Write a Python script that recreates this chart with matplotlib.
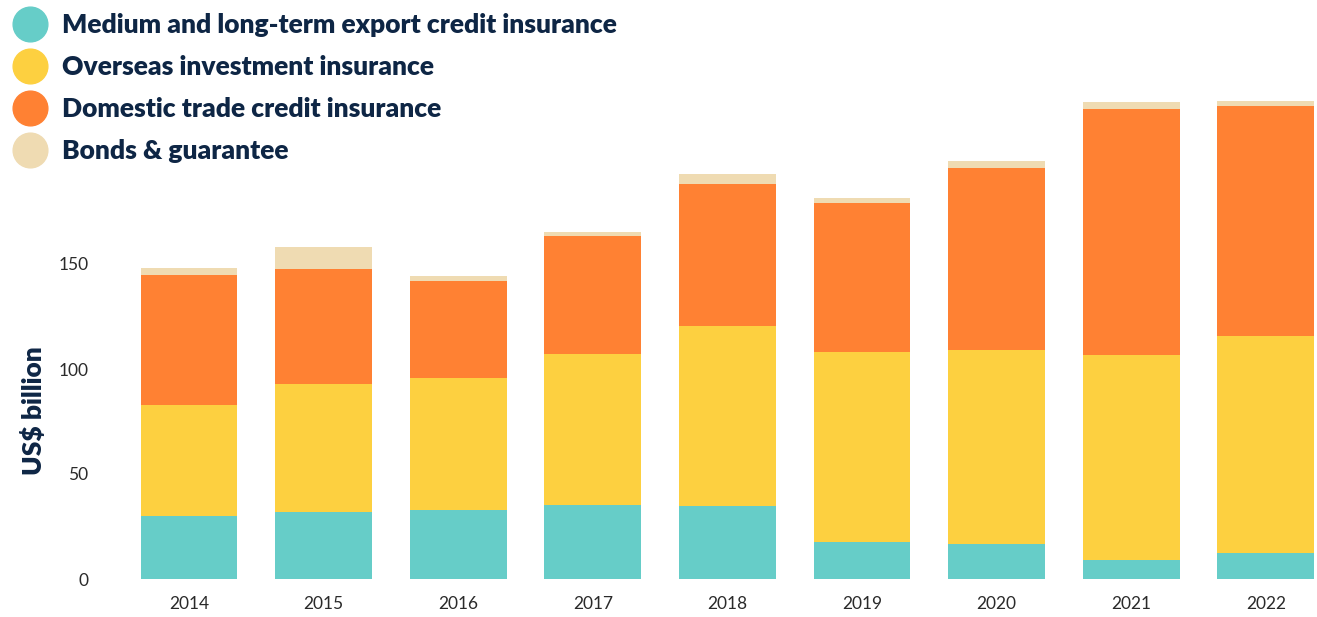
import numpy as np
import matplotlib.pyplot as plt
from matplotlib.lines import Line2D

years = ['2014', '2015', '2016', '2017', '2018', '2019', '2020', '2021', '2022']
medium_long = [30.0, 32.1, 33.0, 35.2, 34.9, 17.6, 16.8, 9.0, 12.2]
overseas = [52.9, 60.6, 62.9, 72.1, 85.7, 90.4, 92.4, 97.7, 103.7]
domestic = [61.9, 54.9, 46.1, 56.0, 67.5, 71.0, 86.7, 117.3, 109.2]
bonds = [3.4, 10.6, 2.4, 1.9, 4.6, 2.4, 3.1, 3.1, 2.5]

labels = ['Medium and long-term export credit insurance',
          'Overseas investment insurance',
          'Domestic trade credit insurance',
          'Bonds & guarantee']
colors = ['#66cdc8', '#fdd040', '#ff8133', '#efdbb2']
navy = '#0e2645'

plt.rcParams['font.family'] = ['Lato', 'DejaVu Sans']

W, H = 1317, 617
fig = plt.figure(figsize=(W / 100, H / 100), dpi=100)
ax = fig.add_axes([121.7 / W, (H - 579) / H, 1 - 121.7 / W, 579 / H])

x = np.arange(len(years))
bottom = np.zeros(len(years))
for vals, c, lab in zip([medium_long, overseas, domestic, bonds], colors, labels):
    ax.bar(x, vals, width=0.72, bottom=bottom, color=c, label=lab, linewidth=0)
    bottom += np.array(vals)

ax.set_xlim(-0.5, (W - 189) / 134.6)
ax.set_ylim(0, 579 / 2.1)
ax.set_xticks(x, years)
ax.set_yticks([0, 50, 100, 150])
ax.tick_params(length=0, labelsize=12.5, colors='#2a2a2a')
ax.tick_params(axis='x', pad=12)
ax.tick_params(axis='y', pad=24)
for s in ax.spines.values():
    s.set_visible(False)
ax.set_ylabel('US$ billion', fontsize=19, fontweight='heavy', color=navy)
ax.yaxis.set_label_coords(-76 / (W - 121.7), 0.29)

handles = [Line2D([], [], marker='o', linestyle='', markersize=25, color=c) for c in colors]
leg = fig.legend(handles, labels, loc='upper left', bbox_to_anchor=(0.0, 1.0),
                 frameon=False, prop={'size': 19, 'weight': 'heavy'},
                 labelspacing=0.68, handletextpad=0.55, handlelength=1.3,
                 borderaxespad=0.3, borderpad=0.2)
for t in leg.get_texts():
    t.set_color(navy)

fig.savefig('out.png', dpi=100)
